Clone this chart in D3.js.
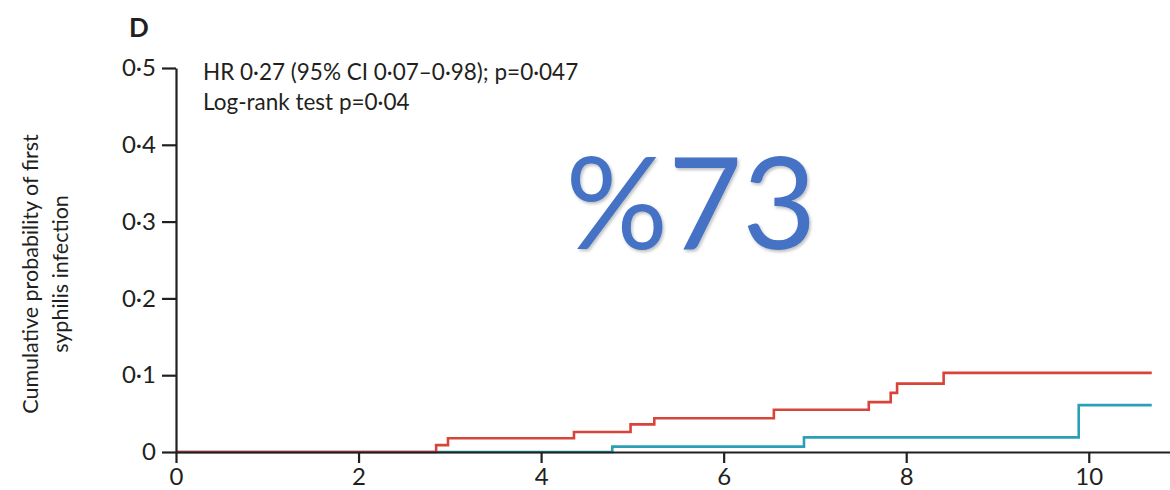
<!DOCTYPE html>
<html>
<head>
<meta charset="utf-8">
<script src="https://cdn.jsdelivr.net/npm/d3@7"></script>
<style>
  body { margin: 0; background: #fff; }
  text { font-family: Lato, "Open Sans", sans-serif; fill: #231f20; }
</style>
</head>
<body>
<div id="chart"></div>
<script>
// data
var redTimes = [0, 2.85, 2.98, 4.36, 4.98, 5.24, 6.55, 7.59, 7.83, 7.90, 8.41, 10.69];
var redValues = [0, 0.009, 0.018, 0.026, 0.036, 0.044, 0.055, 0.065, 0.077, 0.089, 0.103, 0.103];
var blueTimes = [0, 4.78, 6.88, 9.89, 10.69];
var blueValues = [0, 0.007, 0.019, 0.061, 0.061];
var yTicks = [0, 0.1, 0.2, 0.3, 0.4, 0.5];
var xTicks = [0, 2, 4, 6, 8, 10];
var notes = ["HR 0·27 (95% CI 0·07–0·98); p=0·047", "Log-rank test p=0·04"];
var yLabel = ["Cumulative probability of first", "syphilis infection"];

var svgWidth = 1170;
var svgHeight = 490;
var margin = { top: 68, right: 0, bottom: 38, left: 176 };
var width = svgWidth - margin.left - margin.right;
var height = svgHeight - margin.top - margin.bottom;

var svg = d3.select("#chart")
  .append("svg")
  .attr("width", svgWidth)
  .attr("height", svgHeight);

var chartGroup = svg.append("g")
  .attr("transform", `translate(${margin.left}, ${margin.top})`);

var xScale = d3.scaleLinear()
  .domain([0, 10.89])
  .range([0, width]);

var yScale = d3.scaleLinear()
  .domain([0, 0.5])
  .range([height, 0]);

var fmt = d => String(d).replace(".", "·");

// curves (blue first so red sits on top along zero)
var line = d3.line()
  .x(d => xScale(d[0]))
  .y(d => yScale(d[1]))
  .curve(d3.curveStepAfter);

chartGroup.append("path")
  .datum(d3.zip(blueTimes, blueValues))
  .attr("d", line)
  .attr("fill", "none")
  .attr("stroke", "#2a9fb6")
  .attr("stroke-width", 2.6);

chartGroup.append("path")
  .datum(d3.zip(redTimes, redValues))
  .attr("d", line)
  .attr("fill", "none")
  .attr("stroke", "#d8443a")
  .attr("stroke-width", 2.6);

// axes
var xAxis = chartGroup.append("g")
  .attr("transform", `translate(0, ${height})`)
  .call(d3.axisBottom(xScale).tickValues(xTicks).tickFormat(fmt).tickSize(11).tickSizeOuter(0).tickPadding(5));

var yAxis = chartGroup.append("g")
  .call(d3.axisLeft(yScale).tickValues(yTicks).tickFormat(fmt).tickSize(14).tickSizeOuter(0).tickPadding(6));

[xAxis, yAxis].forEach(function(ax) {
  ax.select(".domain").attr("stroke", "#231f20").attr("stroke-width", 2.2);
  ax.selectAll(".tick line").attr("stroke", "#231f20").attr("stroke-width", 2.2);
  ax.selectAll(".tick text")
    .style("font-family", "Lato, 'Open Sans', sans-serif")
    .style("font-size", "24px")
    .attr("fill", "#231f20");
});

// axis title
var yTitle = svg.append("text")
  .attr("transform", "translate(38, 274) rotate(-90)")
  .attr("text-anchor", "middle")
  .style("font-size", "21.5px");
yTitle.selectAll("tspan")
  .data(yLabel)
  .enter()
  .append("tspan")
  .attr("x", 0)
  .attr("dy", (d, i) => i === 0 ? 0 : 30)
  .text(d => d);

// panel letter
svg.append("text")
  .attr("x", 129)
  .attr("y", 37)
  .style("font-size", "26px")
  .style("font-weight", "bold")
  .text("D");

// annotations
svg.selectAll(".note")
  .data(notes)
  .enter()
  .append("text")
  .attr("class", "note")
  .attr("x", 203)
  .attr("y", (d, i) => 80 + i * 30)
  .style("font-size", "22.5px")
  .text(d => d);

// overlay
var defs = svg.append("defs");
var shadow = defs.append("filter").attr("id", "shadow");
shadow.append("feDropShadow")
  .attr("dx", 1.5).attr("dy", 2).attr("stdDeviation", 1.5)
  .attr("flood-color", "#000").attr("flood-opacity", 0.25);

svg.append("text")
  .attr("x", 691)
  .attr("y", 249)
  .attr("text-anchor", "middle")
  .attr("filter", "url(#shadow)")
  .style("font-family", "Lato, 'Open Sans', sans-serif")
  .style("font-size", "128px")
  .style("fill", "#4472c4")
  .text("%73");
</script>
</body>
</html>
